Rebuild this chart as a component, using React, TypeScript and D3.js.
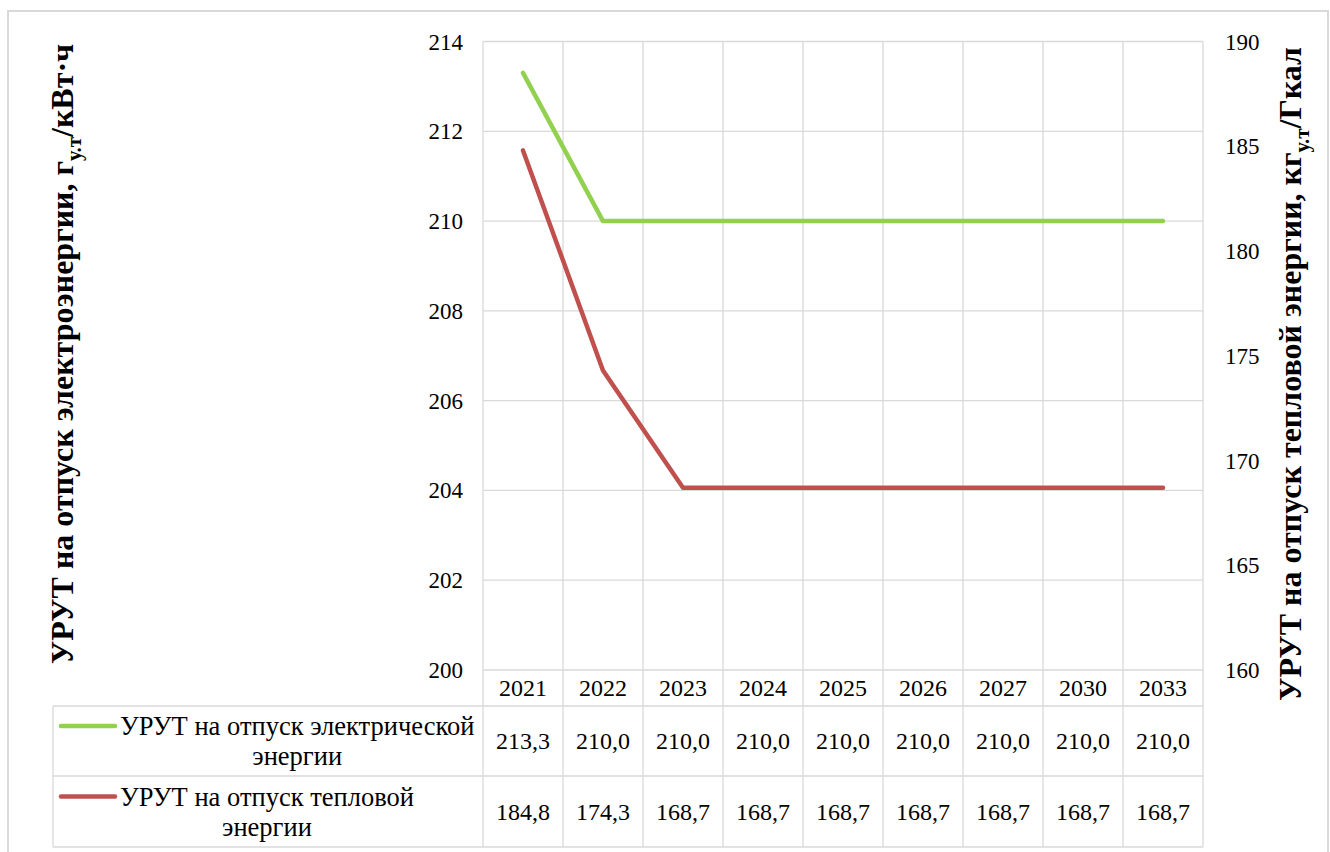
import React from 'react';
import * as d3 from 'd3';

const years = ['2021', '2022', '2023', '2024', '2025', '2026', '2027', '2030', '2033'];
const elecValues = [213.3, 210.0, 210.0, 210.0, 210.0, 210.0, 210.0, 210.0, 210.0];
const heatValues = [184.8, 174.3, 168.7, 168.7, 168.7, 168.7, 168.7, 168.7, 168.7];
const leftTicks = [200, 202, 204, 206, 208, 210, 212, 214];
const rightTicks = [160, 165, 170, 175, 180, 185, 190];
const seriesNames = [
  ['УРУТ на отпуск электрической', 'энергии'],
  ['УРУТ на отпуск тепловой', 'энергии'],
];

const W = 1330;
const H = 852;
const GREEN = '#92D050';
const RED = '#C0504D';
const GRID = '#d9d9d9';
const FONT = 'Liberation Serif';
const LEGEND_FS = 26.5;

function T(props: any) {
  const { children, ...rest } = props;
  return (
    <text fontFamily={FONT} style={{ fontFamily: '"Liberation Serif"' }} fill="#000" {...rest}>{children}</text>
  );
}

export default function App() {
  const plotL = 483, plotR = 1203, plotT = 41.5, plotB = 670;
  const rowTops = [706, 776, 847];
  const tableL = 53;

  const x = d3.scaleBand<string>().domain(years).range([plotL, plotR]);
  const yL = d3.scaleLinear().domain([200, 214]).range([plotB, plotT]);
  const yR = d3.scaleLinear().domain([160, 190]).range([plotB, plotT]);
  const cx = (d: string) => (x(d) as number) + x.bandwidth() / 2;

  const lineL = d3.line<number>().x((_, i) => cx(years[i])).y((v) => yL(v));
  const lineR = d3.line<number>().x((_, i) => cx(years[i])).y((v) => yR(v));
  const fmt = (v: number) => d3.format('.1f')(v).replace('.', ',');

  const boundaries = years.map((d) => x(d) as number).concat([plotR]);
  const series = [
    { values: elecValues, color: GREEN, names: seriesNames[0] },
    { values: heatValues, color: RED, names: seriesNames[1] },
  ];

  return (
    <div style={{ position: 'absolute', left: 0, top: 0, width: W, height: H, background: '#fff' }}>
      <svg width={W} height={H}>
        <rect x={8} y={11} width={1320} height={845} fill="#fff" stroke={GRID} strokeWidth={2} />
        {leftTicks.map((t) => (
          <line key={'h' + t} x1={plotL} x2={plotR} y1={yL(t)} y2={yL(t)} stroke={GRID} strokeWidth={1.3} />
        ))}
        {boundaries.map((b, i) => (
          <line key={'v' + i} x1={b} x2={b} y1={plotT} y2={rowTops[2]} stroke={GRID} strokeWidth={1.3} />
        ))}
        {rowTops.map((r, i) => (
          <line key={'r' + i} x1={tableL} x2={plotR} y1={r} y2={r} stroke={GRID} strokeWidth={1.3} />
        ))}
        <line x1={tableL} x2={tableL} y1={rowTops[0]} y2={rowTops[2]} stroke={GRID} strokeWidth={1.3} />

        {leftTicks.map((t) => (
          <T key={'lt' + t} x={463} y={yL(t)} dy="0.35em" textAnchor="end" fontSize={23}>{t}</T>
        ))}
        {rightTicks.map((t) => (
          <T key={'rt' + t} x={1225} y={yR(t)} dy="0.35em" textAnchor="start" fontSize={23}>{t}</T>
        ))}

        {years.map((d) => (
          <T key={'y' + d} x={cx(d)} y={(plotB + rowTops[0]) / 2} dy="0.35em" textAnchor="middle" fontSize={24}>{d}</T>
        ))}

        {series.map((s, si) => {
          const midY = (rowTops[si] + rowTops[si + 1]) / 2;
          return (
            <g key={'s' + si}>
              {s.values.map((v, i) => (
                <T key={i} x={cx(years[i])} y={midY} dy="0.35em" textAnchor="middle" fontSize={24}>{fmt(v)}</T>
              ))}
              <line x1={61} x2={115} y1={midY - 15} y2={midY - 15} stroke={s.color} strokeWidth={4.5} strokeLinecap="round" />
              <LegendText x={120} y={midY} lines={s.names} />
            </g>
          );
        })}

        <path d={lineR(heatValues) || ''} fill="none" stroke={RED} strokeWidth={4.5} strokeLinejoin="round" strokeLinecap="round" />
        <path d={lineL(elecValues) || ''} fill="none" stroke={GREEN} strokeWidth={4.5} strokeLinejoin="round" strokeLinecap="round" />

        <T transform="translate(62,354) rotate(-90)" textAnchor="middle" fontSize={32} fontWeight="bold" dy="0.35em">
          <tspan>УРУТ на отпуск  электроэнергии,  г</tspan>
          <tspan fontSize={21} dy="8">у.т</tspan>
          <tspan dy="-8">/кВт·ч</tspan>
        </T>
        <T transform="translate(1290,374) rotate(-90)" textAnchor="middle" fontSize={32} fontWeight="bold" dy="0.35em">
          <tspan>УРУТ на отпуск  тепловой энергии, кг</tspan>
          <tspan fontSize={21} dy="8">у.т</tspan>
          <tspan dy="-8">/Гкал</tspan>
        </T>
      </svg>
    </div>
  );
}

function LegendText({ x, y, lines }: { x: number; y: number; lines: string[] }) {
  const ref = React.useRef<SVGTextElement>(null);
  const [w, setW] = React.useState(0);
  React.useEffect(() => {
    if (ref.current) setW(ref.current.getComputedTextLength());
  }, []);
  const center = x + w / 2;
  return (
    <g>
      <text ref={ref} x={x} y={y - 15} dy="0.35em" fontSize={LEGEND_FS} fontFamily={FONT} style={{ visibility: 'hidden', fontFamily: '"Liberation Serif"' }}>{lines[0]}</text>
      {w > 0 && lines.map((l, i) => (
        <T key={i} x={center} y={y - 15 + i * 30} dy="0.35em" textAnchor="middle" fontSize={LEGEND_FS}>{l}</T>
      ))}
    </g>
  );
}
